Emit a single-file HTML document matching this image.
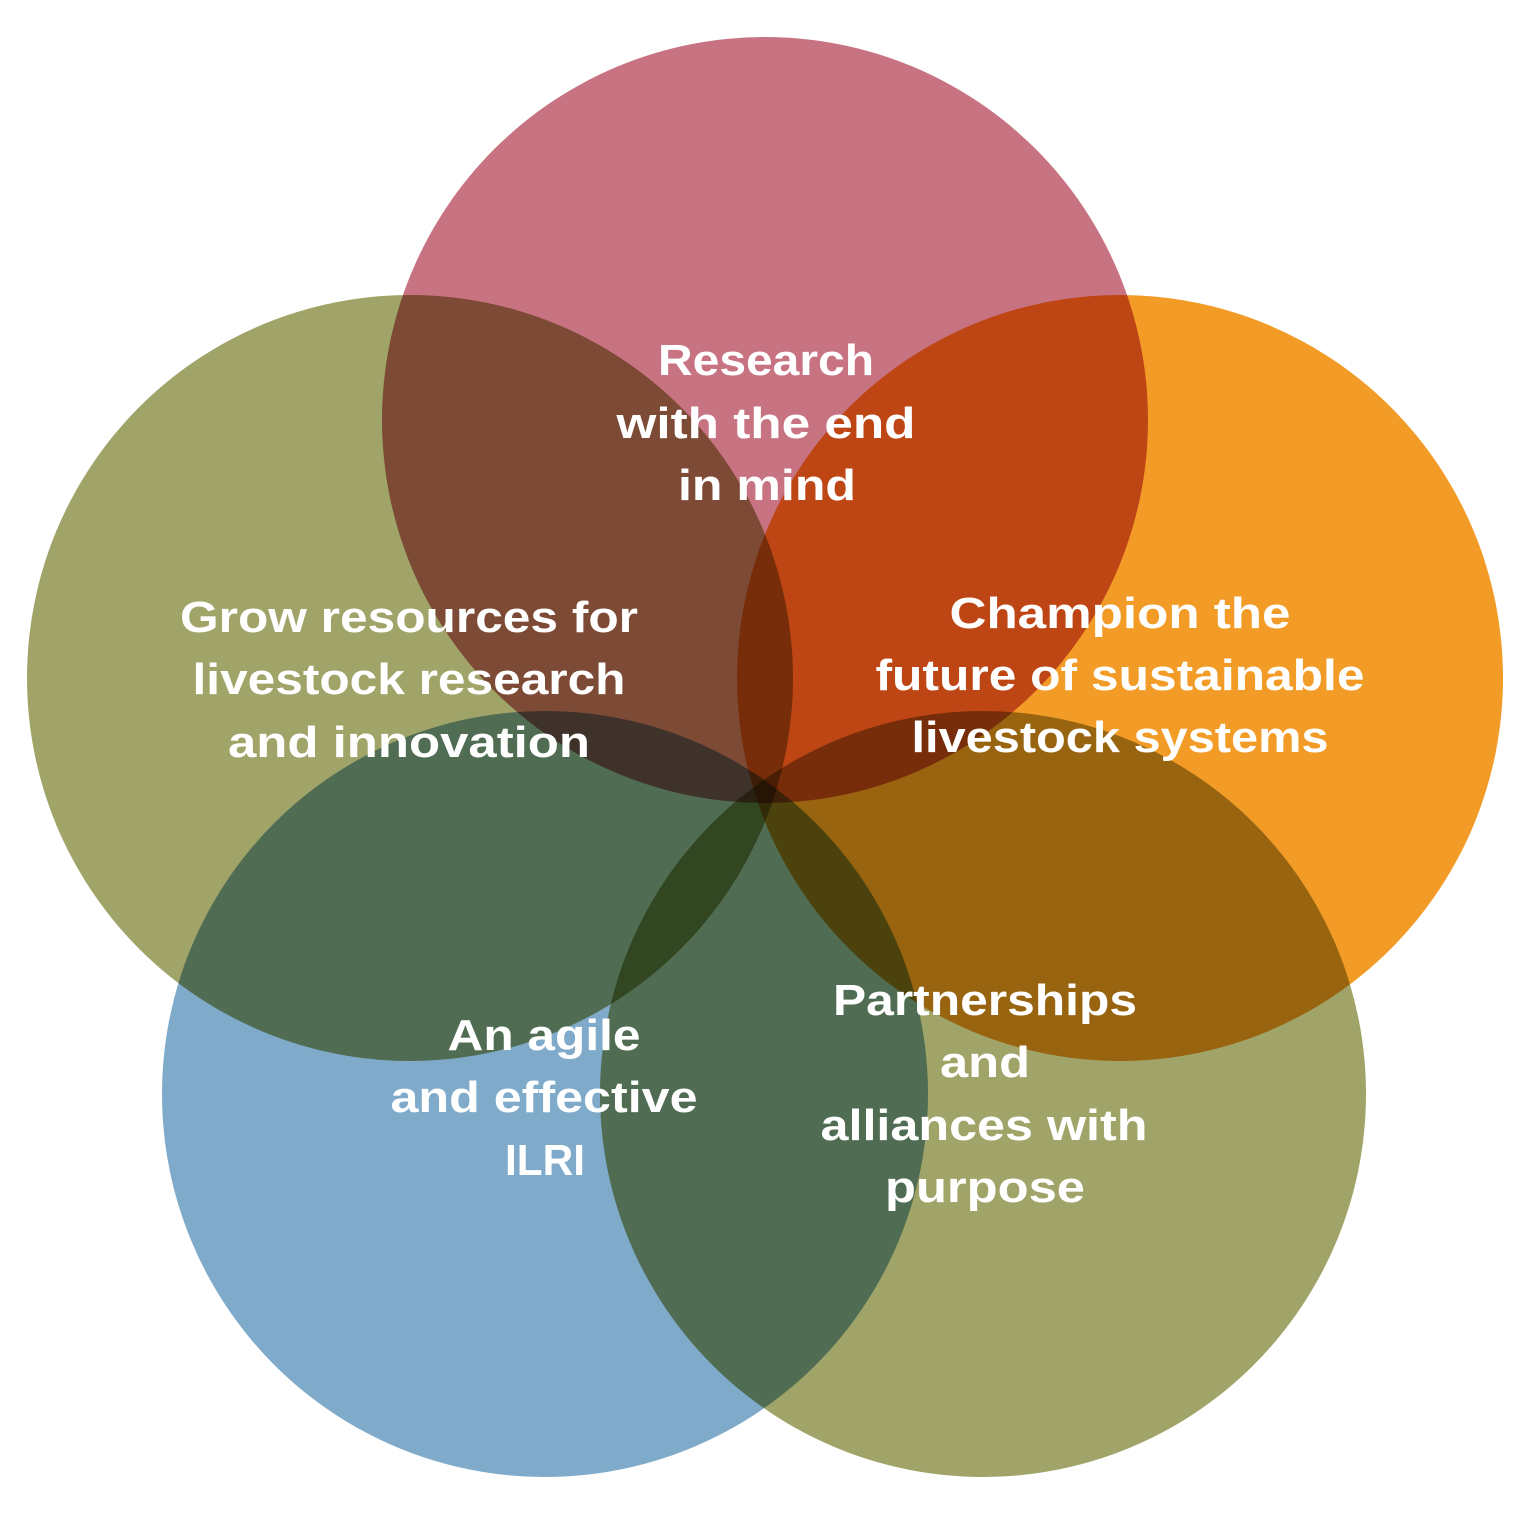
<!DOCTYPE html>
<html><head><meta charset="utf-8"><style>
html,body{margin:0;padding:0;background:#fff;}
svg{display:block}
circle{mix-blend-mode:multiply}
text{font-family:"Liberation Sans",sans-serif;font-weight:bold;font-size:44px;fill:#fff;text-anchor:middle}
</style></head><body>
<svg width="1536" height="1539" viewBox="0 0 1536 1539" xmlns="http://www.w3.org/2000/svg">
<g style="isolation:isolate">
<rect width="1536" height="1539" fill="#fff"/>
<circle cx="765" cy="420" r="383" fill="#c87381"/>
<circle cx="410" cy="678" r="383" fill="#a0a468"/>
<circle cx="1120" cy="678" r="383" fill="#f39b27"/>
<circle cx="545" cy="1094" r="383" fill="#7faaca"/>
<circle cx="983" cy="1094" r="383" fill="#a0a468"/>
</g>
<g>
<text x="766" y="375" textLength="216" lengthAdjust="spacingAndGlyphs">Research</text>
<text x="766" y="438" textLength="299" lengthAdjust="spacingAndGlyphs">with the end</text>
<text x="767" y="500" textLength="178" lengthAdjust="spacingAndGlyphs">in mind</text>
<text x="409" y="632" textLength="458" lengthAdjust="spacingAndGlyphs">Grow resources for</text>
<text x="409" y="694" textLength="433" lengthAdjust="spacingAndGlyphs">livestock research</text>
<text x="409" y="757" textLength="362" lengthAdjust="spacingAndGlyphs">and innovation</text>
<text x="1120" y="628" textLength="341" lengthAdjust="spacingAndGlyphs">Champion the</text>
<text x="1120" y="690" textLength="489" lengthAdjust="spacingAndGlyphs">future of sustainable</text>
<text x="1120" y="752" textLength="417" lengthAdjust="spacingAndGlyphs">livestock systems</text>
<text x="544" y="1050" textLength="193" lengthAdjust="spacingAndGlyphs">An agile</text>
<text x="544" y="1112" textLength="307" lengthAdjust="spacingAndGlyphs">and effective</text>
<text x="545" y="1175" textLength="80" lengthAdjust="spacingAndGlyphs">ILRI</text>
<text x="985" y="1015" textLength="304" lengthAdjust="spacingAndGlyphs">Partnerships</text>
<text x="985" y="1077" textLength="90" lengthAdjust="spacingAndGlyphs">and</text>
<text x="984" y="1140" textLength="327" lengthAdjust="spacingAndGlyphs">alliances with</text>
<text x="985" y="1202" textLength="200" lengthAdjust="spacingAndGlyphs">purpose</text>
</g>
</svg>
</body></html>
